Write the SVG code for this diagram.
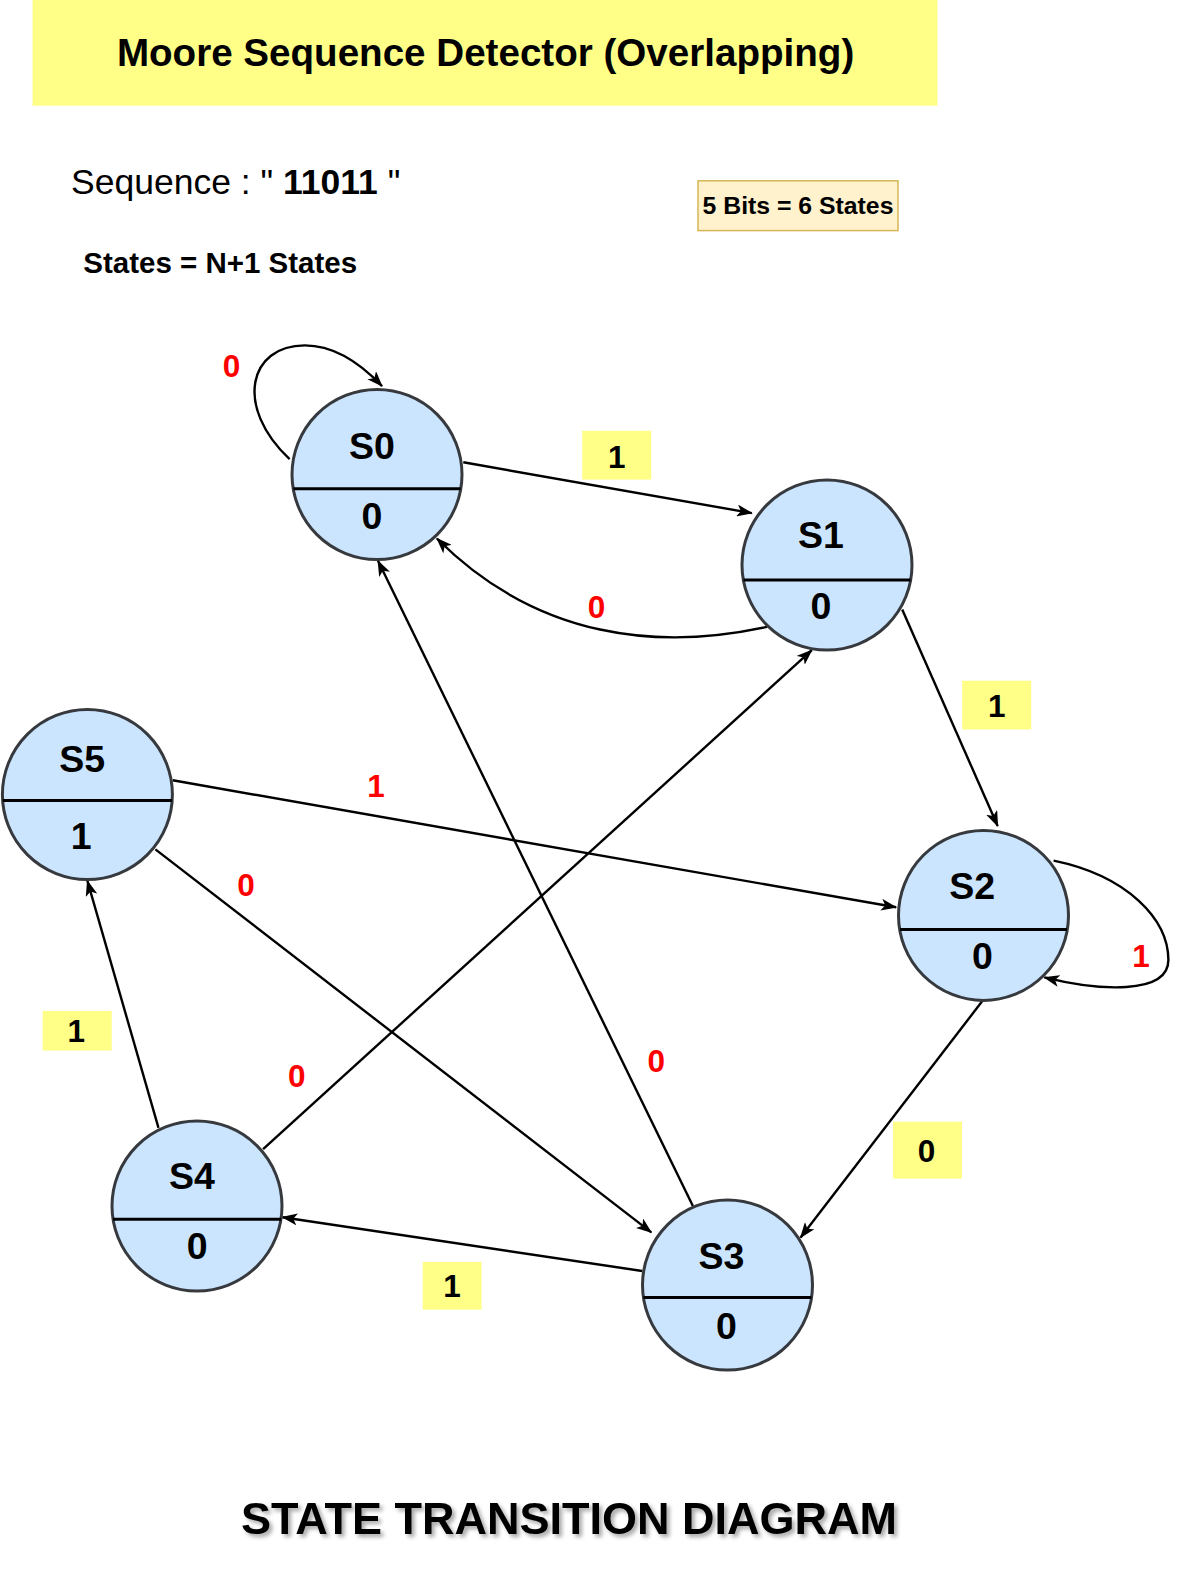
<svg xmlns="http://www.w3.org/2000/svg" width="1203" height="1593" viewBox="0 0 1203 1593">
<style>
.node circle{fill:#cce5ff;stroke:#36393d;stroke-width:3}
.node line{stroke:#000;stroke-width:3}
.nl{font-family:"Liberation Sans",Arial,sans-serif;font-weight:bold;font-size:37.5px;fill:#000;text-anchor:middle}
.edge{fill:none;stroke:#000;stroke-width:2.4;marker-end:url(#arr)}
.red{font-family:"Liberation Sans",Arial,sans-serif;font-weight:bold;font-size:31.5px;fill:#ff0000;text-anchor:middle}
.yl{font-family:"Liberation Sans",Arial,sans-serif;font-weight:bold;font-size:31.5px;fill:#000;text-anchor:middle}
.yb{fill:#ffff88}
</style>
<defs>
<marker id="arr" viewBox="0 0 16 12" refX="15" refY="6" markerWidth="16" markerHeight="12" orient="auto" markerUnits="userSpaceOnUse">
<path d="M0,0 L16,6 L0,12 L4,6 Z" fill="#000"/>
</marker>
<filter id="sh" x="-5%" y="-20%" width="110%" height="140%">
<feGaussianBlur in="SourceAlpha" stdDeviation="2"/>
<feOffset dx="3" dy="3" result="b"/>
<feComponentTransfer><feFuncA type="linear" slope="0.35"/></feComponentTransfer>
<feMerge><feMergeNode/><feMergeNode in="SourceGraphic"/></feMerge>
</filter>
</defs>
<rect width="1203" height="1593" fill="#fff"/>
<g id="title">
<rect x="32.5" y="0" width="905" height="105.7" fill="#ffff88"/>
<text x="485.6" y="66" font-family="Liberation Sans,Arial,sans-serif" font-weight="bold" font-size="38.6" text-anchor="middle">Moore Sequence Detector (Overlapping)</text>
</g>
<g id="sequence">
<text x="71" y="194" font-family="Liberation Sans,Arial,sans-serif" font-size="35.5">Sequence : " <tspan font-weight="bold">11011</tspan> "</text>
</g>
<g id="states-eq">
<text x="83.3" y="273.3" font-family="Liberation Sans,Arial,sans-serif" font-weight="bold" font-size="29.5">States = N+1 States</text>
</g>
<g id="bits-note">
<rect x="698" y="180.8" width="200" height="49.8" fill="#fff2cc" stroke="#d6b656" stroke-width="1.5"/>
<text x="798" y="214.4" font-family="Liberation Sans,Arial,sans-serif" font-weight="bold" font-size="24.8" text-anchor="middle">5 Bits = 6 States</text>
</g>

<g id="connectors">
<path class="edge" d="M289.6,459.2 C233.7,406.4 248.9,345.4 304.8,345.4 C335.3,345.4 360.7,363.7 382,386.1"/>
<path class="edge" d="M463.3,462.3 L751.8,513.1"/>
<path class="edge" d="M767.1,626.9 C660.4,650.2 538.5,640.1 436.9,538.5"/>
<path class="edge" d="M902.2,609.6 L997.7,826"/>
<path class="edge" d="M1053.6,860.6 C1127.8,875.8 1168.4,919.5 1168.4,960.1 C1168.4,995.7 1097.3,990.6 1044.4,977.4"/>
<path class="edge" d="M172.7,780.3 L896.1,907.3"/>
<path class="edge" d="M982.5,1000.8 L800.6,1237.5"/>
<path class="edge" d="M692.9,1206 L378,560.8"/>
<path class="edge" d="M155.4,849.4 L651.3,1232.4"/>
<path class="edge" d="M263.1,1149.1 L811.8,650.2"/>
<path class="edge" d="M642.1,1271 L282.4,1217.2"/>
<path class="edge" d="M158.5,1127.8 L87.4,880.9"/>
</g>

<g id="edge-labels">
<text class="red" x="231.6" y="377">0</text>
<rect class="yb" x="582.2" y="430.8" width="69" height="48.8"/>
<text class="yl" x="616.7" y="468.4">1</text>
<text class="red" x="596.4" y="617.7">0</text>
<rect class="yb" x="962.2" y="680.7" width="69" height="48.8"/>
<text class="yl" x="996.7" y="717.3">1</text>
<text class="red" x="1141" y="967.2">1</text>
<text class="red" x="375.9" y="796.5">1</text>
<rect class="yb" x="893" y="1121.7" width="69" height="56.9"/>
<text class="yl" x="926.6" y="1162.3">0</text>
<text class="red" x="656.3" y="1071.9">0</text>
<text class="red" x="245.9" y="896.1">0</text>
<text class="red" x="296.7" y="1087.1">0</text>
<rect class="yb" x="422.7" y="1261.9" width="58.9" height="47.8"/>
<text class="yl" x="452.1" y="1297.4">1</text>
<rect class="yb" x="42.7" y="1010.9" width="69" height="39.6"/>
<text class="yl" x="76.2" y="1042.4">1</text>
</g>

<g id="S0" class="node">
<circle cx="377" cy="474.5" r="85"/>
<line x1="293.5" y1="488.7" x2="460.5" y2="488.7"/>
<text class="nl" x="371.9" y="459.2">S0</text>
<text class="nl" x="371.9" y="529.3">0</text>
</g>
<g id="S1" class="node">
<circle cx="827" cy="565" r="85"/>
<line x1="743.5" y1="580" x2="910.5" y2="580"/>
<text class="nl" x="820.9" y="547.6">S1</text>
<text class="nl" x="820.9" y="618.7">0</text>
</g>
<g id="S2" class="node">
<circle cx="983.5" cy="915.4" r="85"/>
<line x1="900" y1="929.6" x2="1067" y2="929.6"/>
<text class="nl" x="972.3" y="899.2">S2</text>
<text class="nl" x="982.5" y="969.3">0</text>
</g>
<g id="S3" class="node">
<circle cx="727.5" cy="1285" r="85"/>
<line x1="643.5" y1="1297.4" x2="811.5" y2="1297.4"/>
<text class="nl" x="721.4" y="1269">S3</text>
<text class="nl" x="726.4" y="1339.1">0</text>
</g>
<g id="S4" class="node">
<circle cx="197" cy="1206" r="85"/>
<line x1="113" y1="1219.2" x2="281" y2="1219.2"/>
<text class="nl" x="192" y="1188.7">S4</text>
<text class="nl" x="197.1" y="1258.8">0</text>
</g>
<g id="S5" class="node">
<circle cx="87.4" cy="794.5" r="85"/>
<line x1="2.7" y1="800.6" x2="172.1" y2="800.6"/>
<text class="nl" x="82.3" y="772.2">S5</text>
<text class="nl" x="81.3" y="849.4">1</text>
</g>

<g id="footer">
<text x="569" y="1534" font-family="Liberation Sans,Arial,sans-serif" font-weight="bold" font-size="45" text-anchor="middle" filter="url(#sh)">STATE TRANSITION DIAGRAM</text>
</g>
</svg>
